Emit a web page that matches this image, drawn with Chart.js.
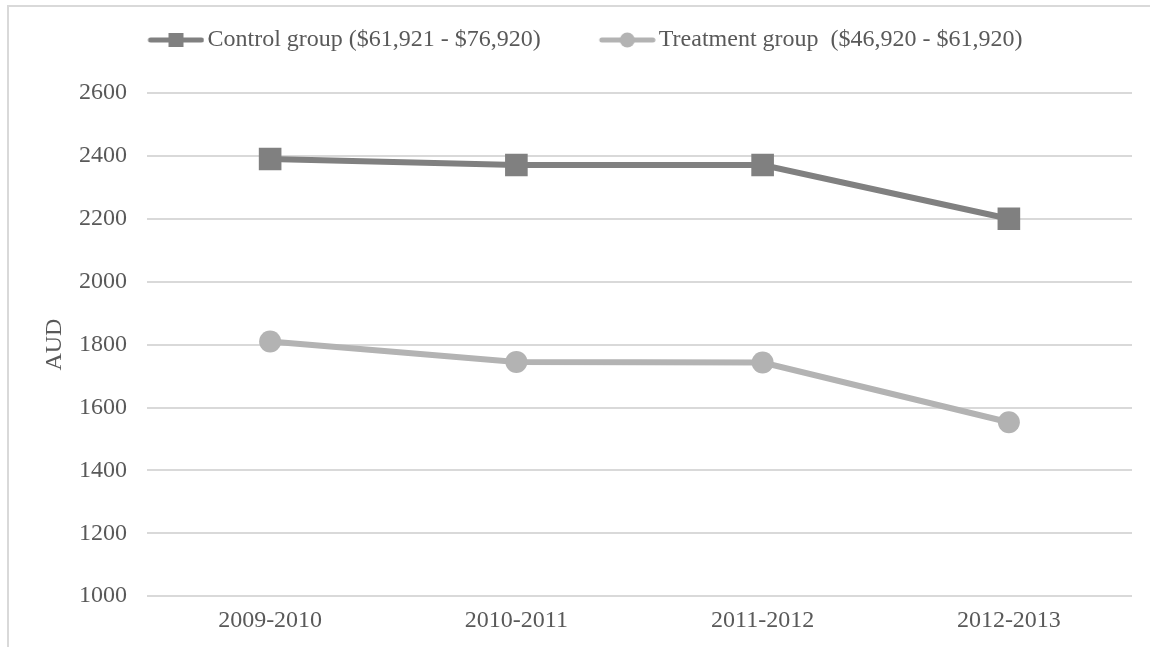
<!DOCTYPE html>
<html>
<head>
<meta charset="utf-8">
<script src="https://cdn.jsdelivr.net/npm/chart.js@4"></script>
<style>
  html, body { margin: 0; padding: 0; background: #fff; }
  #frame { position: absolute; left: 7px; top: 5px; width: 1143px; height: 642px;
           border-left: 2px solid #d9d9d9; border-top: 2px solid #d9d9d9; }
  #wrap { position: absolute; left: 0; top: 0; width: 1150px; height: 647px; }
</style>
</head>
<body>
<div id="frame"></div>
<div id="wrap"><canvas id="lineChart"></canvas></div>
<script>
const years = ['2009-2010', '2010-2011', '2011-2012', '2012-2013'];
const controlCosts = [2390, 2371, 2371, 2200];
const treatmentCosts = [1810, 1745, 1743, 1553];
const seriesNames = ['Control group ($61,921 - $76,920)', 'Treatment group  ($46,920 - $61,920)'];

const FONT = 'Liberation Serif';
const TEXT = '#595959';

// little "line + marker" swatch for the legend, like the Excel one
function legendSwatch(color, shape) {
  const c = document.createElement('canvas');
  c.width = 96; c.height = 24;
  const g = c.getContext('2d');
  const w = c.width;
  g.strokeStyle = color; g.fillStyle = color;
  g.lineWidth = 5; g.lineCap = 'round';
  g.beginPath(); g.moveTo(w - 54, 12); g.lineTo(w - 3, 12); g.stroke();
  if (shape === 'rect') {
    g.fillRect(w - 36, 5, 15, 14);
  } else {
    g.beginPath(); g.arc(w - 28.5, 12, 7.5, 0, Math.PI * 2); g.fill();
  }
  return c;
}
const swatches = [legendSwatch('#808080', 'rect'), legendSwatch('#b3b3b3', 'circle')];

// extra room under the legend
const legendGap = {
  id: 'legendGap',
  beforeLayout(chart) {
    const lg = chart.legend;
    if (lg && !lg._gapped) {
      const fit = lg.fit;
      lg.fit = function () { fit.call(this); this.height += 31; };
      lg._gapped = true;
    }
  }
};

const ctx = document.getElementById('lineChart').getContext('2d');
new Chart(ctx, {
  type: 'line',
  data: {
    labels: years,
    datasets: [
      {
        label: seriesNames[0],
        data: controlCosts,
        borderColor: '#808080',
        backgroundColor: '#808080',
        borderWidth: 6,
        pointStyle: 'rect',
        pointRadius: 16,
        pointBorderWidth: 0,
        tension: 0
      },
      {
        label: seriesNames[1],
        data: treatmentCosts,
        borderColor: '#b3b3b3',
        backgroundColor: '#b3b3b3',
        borderWidth: 6,
        pointStyle: 'circle',
        pointRadius: 11,
        pointBorderWidth: 0,
        tension: 0
      }
    ]
  },
  options: {
    responsive: true,
    maintainAspectRatio: false,
    animation: false,
    layout: { padding: { left: 8, right: 18, top: 0, bottom: 2 } },
    plugins: {
      tooltip: { enabled: false },
      legend: {
        position: 'top',
        labels: {
          usePointStyle: true,
          pointStyleWidth: 78,
          padding: 28,
          color: TEXT,
          font: { family: FONT, size: 24 },
          generateLabels(chart) {
            const items = Chart.defaults.plugins.legend.labels.generateLabels(chart);
            items.forEach((it, i) => { it.pointStyle = swatches[i]; });
            return items;
          }
        }
      }
    },
    scales: {
      x: {
        offset: true,
        grid: { display: false, drawTicks: false },
        border: { display: false },
        ticks: { color: TEXT, padding: 10, font: { family: FONT, size: 24 } }
      },
      y: {
        min: 1000,
        max: 2600,
        afterFit(scale) { scale.width = 139; },
        grid: { color: '#d9d9d9', lineWidth: 2, drawTicks: false },
        border: { display: false },
        ticks: {
          stepSize: 200,
          color: TEXT,
          padding: 20,
          font: { family: FONT, size: 24 },
          callback: v => String(v)
        },
        title: {
          display: true,
          text: 'AUD',
          color: TEXT,
          font: { family: FONT, size: 24 },
          padding: { top: 32, bottom: 10 }
        }
      }
    }
  },
  plugins: [legendGap]
});
</script>
</body>
</html>
